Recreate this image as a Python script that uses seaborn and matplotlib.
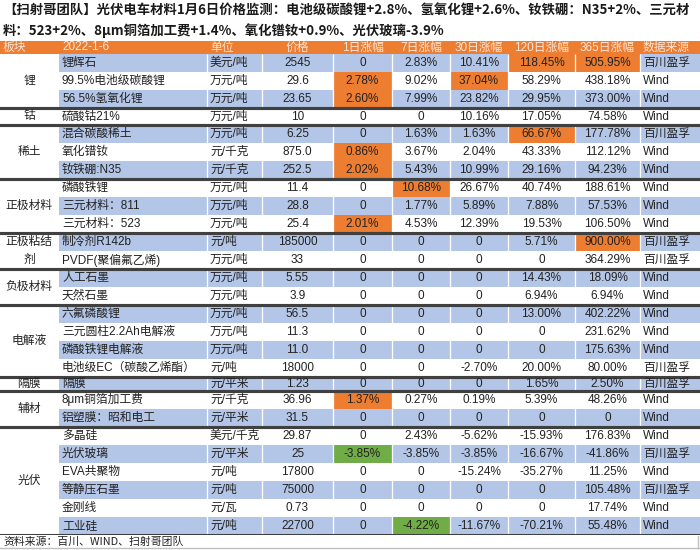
import numpy as np
import matplotlib
matplotlib.use('Agg')
import matplotlib.pyplot as plt
import seaborn as sns
from matplotlib.colors import ListedColormap
from matplotlib.lines import Line2D

# 表格数据
title_1 = '【扫射哥团队】光伏电车材料1月6日价格监测：电池级碳酸锂+2.8%、氢氧化锂+2.6%、钕铁硼：N35+2%、三元材'
title_2 = '料：523+2%、8μm铜箔加工费+1.4%、氧化镨钕+0.9%、光伏玻璃-3.9%'
source_note = '资料来源：百川、WIND、扫射哥团队'

header = ['板块', '2022-1-6', '单位', '价格', '1日涨幅', '7日涨幅', '30日涨幅', '120日涨幅', '365日涨幅', '数据来源']

groups = ['锂', '钴', '稀土', '正极材料', '正极粘结\n剂', '负极材料', '电解液', '隔膜', '辅材', '光伏']
group_sizes = [3, 1, 3, 3, 2, 2, 4, 1, 2, 6]

products = ['锂辉石', '99.5%电池级碳酸锂', '56.5%氢氧化锂', '硫酸钴21%', '混合碳酸稀土', '氧化镨钕',
            '钕铁硼:N35', '磷酸铁锂', '三元材料：811', '三元材料：523', '制冷剂R142b', 'PVDF(聚偏氟乙烯)',
            '人工石墨', '天然石墨', '六氟磷酸锂', '三元圆柱2.2Ah电解液', '磷酸铁锂电解液',
            '电池级EC（碳酸乙烯酯）', '隔膜', '8μm铜箔加工费', '铝塑膜：昭和电工', '多晶硅', '光伏玻璃',
            'EVA共聚物', '等静压石墨', '金刚线', '工业硅']
units = ['美元/吨', '万元/吨', '万元/吨', '万元/吨', '万元/吨', '元/千克', '元/千克', '万元/吨', '万元/吨',
         '万元/吨', '元/吨', '万元/吨', '万元/吨', '万元/吨', '万元/吨', '万元/吨', '万元/吨', '元/吨',
         '元/平米', '元/千克', '元/平米', '美元/千克', '元/平米', '元/吨', '元/吨', '元/瓦', '元/吨']
prices = ['2545', '29.6', '23.65', '10', '6.25', '875.0', '252.5', '11.4', '28.8', '25.4', '185000', '33',
          '5.55', '3.9', '56.5', '11.3', '11.0', '18000', '1.23', '36.96', '31.5', '29.87', '25',
          '17800', '75000', '0.73', '22700']
chg_1d = [0, 2.78, 2.60, 0, 0, 0.86, 2.02, 0, 0, 2.01, 0, 0, 0, 0, 0, 0, 0, 0, 0, 1.37, 0, 0,
          -3.85, 0, 0, 0, 0]
chg_7d = [2.83, 9.02, 7.99, 0, 1.63, 3.67, 5.43, 10.68, 1.77, 4.53, 0, 0, 0, 0, 0, 0, 0, 0, 0,
          0.27, 0, 2.43, -3.85, 0, 0, 0, -4.22]
chg_30d = [10.41, 37.04, 23.82, 10.16, 1.63, 2.04, 10.99, 26.67, 5.89, 12.39, 0, 0, 0, 0, 0, 0, 0,
           -2.70, 0, 0.19, 0, -5.62, -3.85, -15.24, 0, 0, -11.67]
chg_120d = [118.45, 58.29, 29.95, 17.05, 66.67, 43.33, 29.16, 40.74, 7.88, 19.53, 5.71, 0, 14.43,
            6.94, 13.00, 0, 0, 20.00, 1.65, 5.39, 0, -15.93, -16.67, -35.27, 0, 0, -70.21]
chg_365d = [505.95, 438.18, 373.00, 74.58, 177.78, 112.12, 94.23, 188.61, 57.53, 106.50, 900.00,
            364.29, 18.09, 6.94, 402.22, 231.62, 175.63, 80.00, 2.50, 48.26, 0, 176.83, -41.86,
            11.25, 105.48, 17.74, 55.48]
sources = ['百川盈孚', 'Wind', 'Wind', 'Wind', '百川盈孚', 'Wind', 'Wind', 'Wind', 'Wind', 'Wind',
           '百川盈孚', '百川盈孚', 'Wind', 'Wind', 'Wind', 'Wind', 'Wind', '百川盈孚', '百川盈孚', 'Wind',
           'Wind', 'Wind', '百川盈孚', 'Wind', '百川盈孚', 'Wind', 'Wind']

# 高亮单元格: 2=橙色(涨), 3=绿色(跌)
highlights = {
    '锂辉石': {'120日涨幅': 2, '365日涨幅': 2},
    '99.5%电池级碳酸锂': {'1日涨幅': 2, '30日涨幅': 2},
    '56.5%氢氧化锂': {'1日涨幅': 2},
    '混合碳酸稀土': {'120日涨幅': 2},
    '氧化镨钕': {'1日涨幅': 2},
    '钕铁硼:N35': {'1日涨幅': 2},
    '磷酸铁锂': {'7日涨幅': 2},
    '三元材料：523': {'1日涨幅': 2},
    '制冷剂R142b': {'365日涨幅': 2},
    '8μm铜箔加工费': {'1日涨幅': 2},
    '光伏玻璃': {'1日涨幅': 3},
    '工业硅': {'7日涨幅': 3},
}

# 版式 (像素)
col_edges = [0, 59, 207, 262, 333, 392, 450, 508, 575, 640, 700]
row_heights = [13] + [18] * len(products)
row_heights[1 + products.index('硫酸钴21%')] = 17
row_heights[1 + products.index('隔膜')] = 14
row_tops = np.concatenate([[0], np.cumsum(row_heights)])
table_h = int(row_tops[-1])

plt.rcParams['font.family'] = ['Liberation Sans', 'Noto Sans CJK SC', 'DejaVu Sans']
cjk = ['Noto Sans CJK SC', 'DejaVu Sans']

# 单元格颜色矩阵
n_rows = len(products) + 1
codes = np.zeros((n_rows, len(header)), dtype=int)
codes[0, :] = 2
for i, name in enumerate(products):
    if i % 2 == 0:
        codes[i + 1, 1:] = 1
    for col, c in highlights.get(name, {}).items():
        codes[i + 1, header.index(col)] = c

grid = np.repeat(np.repeat(codes, row_heights, axis=0), np.diff(col_edges), axis=1)

fig = plt.figure(figsize=(7, 5.5), dpi=100)
top_px = 41
ax = fig.add_axes([0, 1 - (top_px + table_h) / 550, 1, table_h / 550])
cmap = ListedColormap(['#FFFFFF', '#B4C6E7', '#ED7D31', '#70AD47'])
sns.heatmap(grid, cmap=cmap, vmin=-0.5, vmax=3.5, cbar=False,
            xticklabels=False, yticklabels=False, ax=ax)

# 单元格之间的白色竖线
ax.vlines(col_edges[2:-1], row_tops[1], row_tops[-1], color='white', lw=0.9)

fs = 8.5
txt = '#222222'
# 表头
head_col = '#FCE6D8'
for j, h in enumerate(header):
    y = row_tops[0] + row_heights[0] / 2
    if j in (0, 1, 2, 9):
        x = {0: 3, 1: 62, 2: 210, 9: 643}[j]
        ax.text(x, y, h, ha='left', va='center', fontsize=fs, color=head_col)
    else:
        ax.text((col_edges[j] + col_edges[j + 1]) / 2, y, h, ha='center', va='center',
                fontsize=fs, color=head_col)


def fmt(v):
    return '0' if v == 0 else f'{v:.2f}%'


changes = [chg_1d, chg_7d, chg_30d, chg_120d, chg_365d]
for i in range(len(products)):
    y = row_tops[i + 1] + row_heights[i + 1] / 2
    ax.text(62, y, products[i], ha='left', va='center', fontsize=fs, color=txt)
    ax.text(210, y, units[i], ha='left', va='center', fontsize=fs, color=txt)
    ax.text((col_edges[3] + col_edges[4]) / 2, y, prices[i], ha='center', va='center',
            fontsize=fs, color=txt)
    for k, series in enumerate(changes):
        ax.text((col_edges[4 + k] + col_edges[5 + k]) / 2, y, fmt(series[i]),
                ha='center', va='center', fontsize=fs, color=txt)
    ax.text(643, y, sources[i], ha='left', va='center', fontsize=fs, color=txt)

# 板块名称与分隔线
start = 0
for g, n in zip(groups, group_sizes):
    top = row_tops[start + 1]
    bottom = row_tops[start + 1 + n]
    ax.text(29, (top + bottom) / 2, g, ha='center', va='center', fontsize=fs, color=txt,
            linespacing=1.6)
    ax.axhline(bottom, color='#404040', lw=2.2)
    if start > 0:
        ax.axhline(top, color='#404040', lw=2.2)
    start += n

# 标题与来源
fig.text(3 / 700, 1 - 11 / 550, title_1, ha='left', va='center', fontsize=9.6,
         fontweight='bold', family=cjk, color='#1a1a1a')
fig.text(3 / 700, 1 - 31 / 550, title_2, ha='left', va='center', fontsize=9.6,
         fontweight='bold', family=cjk, color='#1a1a1a')
fig.text(3 / 700, 1 - 542 / 550, source_note, ha='left', va='center', fontsize=7.8,
         family=cjk, color='#222222')
fig.add_artist(Line2D([0, 1], [2 / 550, 2 / 550], color='#c0c0c0', lw=1))
fig.add_artist(Line2D([698 / 700, 698 / 700], [2 / 550, 14 / 550], color='#c0c0c0', lw=1))

fig.savefig('out.png', dpi=100)
